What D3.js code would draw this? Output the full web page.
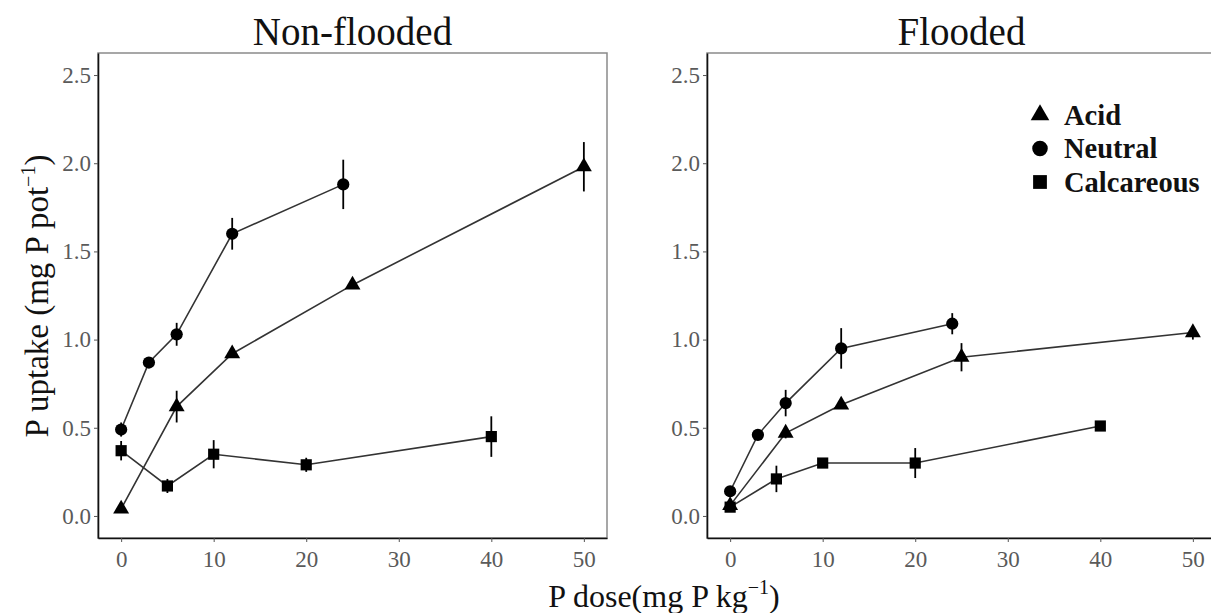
<!DOCTYPE html>
<html>
<head>
<meta charset="utf-8">
<script src="https://cdn.jsdelivr.net/npm/d3@7"></script>
<style>
  body { margin: 0; background: #fff; }
  svg { display: block; font-family: "Liberation Serif", "Times New Roman", serif; }
</style>
</head>
<body>
<svg id="chart"></svg>
<script>
var width = 1211;
var height = 613;

// facet titles and legend entries
var panels = ["Non-flooded", "Flooded"];
var soils = ["Acid", "Neutral", "Calcareous"];

// P dose levels (mg P / kg) per soil
var acidDose = [0, 6, 12, 25, 50];
var neutralDose = [0, 3, 6, 12, 24];
var calcDose = [0, 5, 10, 20, 40];

// P uptake (mg P / pot), non-flooded
var acidNF = [0.04, 0.62, 0.92, 1.31, 1.98];
var acidNFse = [0.01, 0.09, 0.02, 0.02, 0.14];
var neutralNF = [0.49, 0.87, 1.03, 1.60, 1.88];
var neutralNFse = [0.04, 0.02, 0.065, 0.09, 0.14];
var calcNF = [0.37, 0.17, 0.35, 0.29, 0.45];
var calcNFse = [0.055, 0.04, 0.08, 0.04, 0.115];

// P uptake (mg P / pot), flooded
var acidF = [0.06, 0.47, 0.63, 0.90, 1.04];
var acidFse = [0.01, 0.03, 0.02, 0.08, 0.04];
var neutralF = [0.14, 0.46, 0.64, 0.95, 1.09];
var neutralFse = [0.01, 0.02, 0.075, 0.115, 0.06];
var calcF = [0.05, 0.21, 0.30, 0.30, 0.51];
var calcFse = [0.02, 0.075, 0.02, 0.085, 0.02];

var xTicks = [0, 10, 20, 30, 40, 50];
var yTicks = [0, 0.5, 1, 1.5, 2, 2.5];

function makeSeries(soil, doses, vals, ses) {
  return {
    soil: soil,
    points: doses.map(function(d, i) { return {dose: d, val: vals[i], se: ses[i]}; })
  };
}

var panelData = [
  [makeSeries("Acid", acidDose, acidNF, acidNFse),
   makeSeries("Neutral", neutralDose, neutralNF, neutralNFse),
   makeSeries("Calcareous", calcDose, calcNF, calcNFse)],
  [makeSeries("Acid", acidDose, acidF, acidFse),
   makeSeries("Neutral", neutralDose, neutralF, neutralFse),
   makeSeries("Calcareous", calcDose, calcF, calcFse)]
];

var shape = d3.scaleOrdinal()
  .domain(soils)
  .range([d3.symbolTriangle, d3.symbolCircle, d3.symbolSquare]);
var shapeSize = d3.scaleOrdinal()
  .domain(soils)
  .range([110, 118, 125]);

var panelLeft = [98, 707];
var panelW = 509;
var plotTop = 53, plotBottom = 538;

var y = d3.scaleLinear().domain([-0.125, 2.625]).range([plotBottom, plotTop]);

var svg = d3.select('#chart')
  .attr('width', width)
  .attr('height', height);

panels.forEach(function(title, p) {
  var x = d3.scaleLinear().domain([-2.5, 52.5]).range([panelLeft[p], panelLeft[p] + panelW]);
  var g = svg.append('g');

  // panel border (top / right grey)
  g.append('rect')
    .attr('x', panelLeft[p])
    .attr('y', plotTop)
    .attr('width', panelW)
    .attr('height', plotBottom - plotTop)
    .attr('fill', 'none')
    .attr('stroke', '#8a8a8a')
    .attr('stroke-width', 1.5);

  var xAxis = g.append('g')
    .attr('transform', 'translate(0,' + plotBottom + ')')
    .call(d3.axisBottom(x).tickValues(xTicks).tickSize(4).tickSizeOuter(0).tickPadding(5));
  var yAxis = g.append('g')
    .attr('transform', 'translate(' + panelLeft[p] + ',0)')
    .call(d3.axisLeft(y).tickValues(yTicks).tickFormat(d3.format('.1f')).tickSize(4).tickSizeOuter(0).tickPadding(3));

  [xAxis, yAxis].forEach(function(a) {
    a.select('.domain').attr('stroke', '#111').attr('stroke-width', 1.6);
    a.selectAll('.tick line').attr('stroke', '#555').attr('stroke-width', 1);
    a.selectAll('.tick text')
      .attr('fill', '#5a5a5a')
      .style('font-family', '"Liberation Serif", serif')
      .style('font-size', '23px');
  });
  xAxis.selectAll('.tick text').attr('dy', '0.85em');

  g.append('text')
    .attr('x', panelLeft[p] + panelW / 2)
    .attr('y', 45)
    .attr('text-anchor', 'middle')
    .style('font-size', '39px')
    .attr('fill', '#111')
    .text(title);

  var line = d3.line()
    .x(function(d) { return x(d.dose); })
    .y(function(d) { return y(d.val); });

  var series = g.selectAll('.series')
    .data(panelData[p])
    .enter().append('g')
    .attr('class', 'series');

  series.append('path')
    .attr('d', function(d) { return line(d.points); })
    .attr('fill', 'none')
    .attr('stroke', '#333')
    .attr('stroke-width', 1.6);

  series.selectAll('.err')
    .data(function(d) { return d.points; })
    .enter().append('line')
    .attr('class', 'err')
    .attr('x1', function(d) { return x(d.dose); })
    .attr('x2', function(d) { return x(d.dose); })
    .attr('y1', function(d) { return y(d.val - d.se); })
    .attr('y2', function(d) { return y(d.val + d.se); })
    .attr('stroke', '#000')
    .attr('stroke-width', 1.8);

  series.each(function(s) {
    d3.select(this).selectAll('.pt')
      .data(s.points)
      .enter().append('path')
      .attr('class', 'pt')
      .attr('transform', function(d) { return 'translate(' + x(d.dose) + ',' + y(d.val) + ')'; })
      .attr('d', d3.symbol().type(shape(s.soil)).size(shapeSize(s.soil)))
      .attr('fill', '#000');
  });
});

// legend inside the Flooded panel
var legend = svg.append('g').attr('transform', 'translate(1040,115)');
var items = legend.selectAll('g')
  .data(soils)
  .enter().append('g')
  .attr('transform', function(d, i) { return 'translate(0,' + (i * 33.5) + ')'; });
items.append('path')
  .attr('d', function(d) { return d3.symbol().type(shape(d)).size(d === 'Acid' ? 150 : 190)(); })
  .attr('fill', '#000');
items.append('text')
  .attr('x', 24)
  .attr('dy', '0.34em')
  .style('font-size', '28.5px')
  .style('font-weight', 'bold')
  .attr('fill', '#111')
  .text(function(d) { return d; });

// axis titles
var xt = svg.append('text')
  .attr('x', 664)
  .attr('y', 607)
  .attr('text-anchor', 'middle')
  .style('font-size', '32px')
  .attr('fill', '#111');
xt.append('tspan').text('P dose(mg P kg');
xt.append('tspan').attr('dy', -13).style('font-size', '20px').text('\u22121');
xt.append('tspan').attr('dy', 13).text(')');

var yt = svg.append('text')
  .attr('transform', 'translate(48,296) rotate(-90)')
  .attr('text-anchor', 'middle')
  .style('font-size', '33px')
  .attr('fill', '#111');
yt.append('tspan').text('P uptake (mg P pot');
yt.append('tspan').attr('dy', -13).style('font-size', '20px').text('\u22121');
yt.append('tspan').attr('dy', 13).text(')');
</script>
</body>
</html>
